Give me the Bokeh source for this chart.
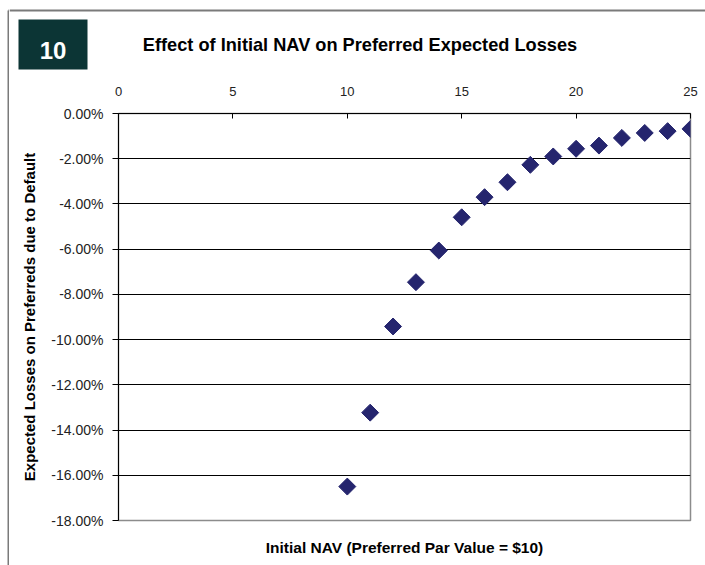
import numpy as np
from bokeh.plotting import figure
from bokeh.layouts import column, row
from bokeh.models import Range1d, FixedTicker, PrintfTickFormatter, LinearAxis
from bokeh.core.properties import value
from bokeh.embed import file_html
from bokeh.resources import INLINE

# Data
nav = [10, 11, 12, 13, 14, 15, 16, 17, 18, 19, 20, 21, 22, 23, 24, 25]
losses_pct = [-16.5, -13.23, -9.42, -7.46, -6.06, -4.59, -3.70, -3.04, -2.27,
              -1.90, -1.56, -1.42, -1.08, -0.86, -0.78, -0.68]
x_ticks = [0, 5, 10, 15, 20, 25]
y_ticks = [0, -2, -4, -6, -8, -10, -12, -14, -16, -18]
title_text = "Effect of Initial NAV on Preferred Expected Losses"
x_label = "Initial NAV (Preferred Par Value = $10)"
y_label = "Expected Losses on Preferreds due to Default"
badge = "10"

FONT = "Liberation Sans"
W, H = 705, 565
HH = 80          # header height
SW = 9           # left strip width
BORDER = "#7a7a7a"


def no_align(f):
    if hasattr(f, "frame_align"):
        f.frame_align = False
    return f


def blank(width, height):
    f = figure(width=width, height=height, output_backend="svg", toolbar_location=None,
               x_range=Range1d(0, width), y_range=Range1d(height, 0),
               x_axis_type=None, y_axis_type=None,
               min_border=0, min_border_left=0, min_border_right=0,
               min_border_top=0, min_border_bottom=0)
    f.outline_line_color = None
    f.grid.grid_line_color = None
    f.background_fill_color = "white"
    f.border_fill_color = "white"
    return no_align(f)


# ---- left strip: full-height frame line ----
strip = blank(SW, H)
strip.segment(x0=[8, 8], y0=[10, 10], x1=[8, SW], y1=[H, 10],
              line_color=BORDER, line_width=2)

# ---- header: top frame line, badge, title (x offset by SW) ----
MW = W - SW
hdr = blank(MW, HH)
hdr.segment(x0=[0], y0=[10], x1=[MW], y1=[10], line_color=BORDER, line_width=2)
hdr.quad(left=[18 - SW], right=[87 - SW], top=[19], bottom=[69],
         fill_color="#0c3535", line_color=None)
hdr.text(x=[52.5 - SW], y=[49.5], text=[badge], text_align="center",
         text_baseline="alphabetic", text_font=value(FONT), text_font_style="bold",
         text_font_size="24px", text_color="white")
hdr.text(x=[359.5 - SW], y=[44], text=[title_text], text_align="center",
         text_baseline="alphabetic", text_font=value(FONT), text_font_style="bold",
         text_font_size="18.2px", text_color="black")

# ---- main chart ----
FL, FT, FR, FB = 118, 113, 690, 520
MH = H - HH
p = figure(width=MW, height=MH, output_backend="svg", toolbar_location=None,
           x_axis_location="above",
           x_range=Range1d(0, 25), y_range=Range1d(-18, 0),
           min_border_left=FL - SW, min_border_top=FT - HH,
           min_border_right=W - FR, min_border_bottom=H - FB)
no_align(p)
p.background_fill_color = "white"
p.border_fill_color = "white"
p.outline_line_color = "#8c8c8c"
p.outline_line_width = 1.5

p.scatter(nav, losses_pct, marker="square", angle=np.pi / 4, size=12,
          fill_color="#25256e", line_color="#25256e")

# x axis (top)
xa = p.xaxis[0]
xa.ticker = FixedTicker(ticks=x_ticks)
xa.major_tick_in = 5
xa.major_tick_out = 0
xa.minor_tick_line_color = None
xa.axis_line_color = "black"
xa.major_tick_line_color = "black"
xa.major_label_standoff = 18
xa.major_label_text_font = FONT
xa.major_label_text_font_size = "13px"
xa.major_label_text_color = "#222222"

# hidden bottom axis carrying the x-axis title
xb = LinearAxis(ticker=FixedTicker(ticks=[]), axis_line_color=None,
                major_tick_line_color=None, minor_tick_line_color=None,
                major_label_text_color=None,
                axis_label=x_label, axis_label_text_font=FONT,
                axis_label_text_font_style="bold", axis_label_text_font_size="15.5px",
                axis_label_text_color="black", axis_label_standoff=18)
p.add_layout(xb, "below")

# y axis
ya = p.yaxis[0]
ya.ticker = FixedTicker(ticks=y_ticks)
ya.formatter = PrintfTickFormatter(format="%.2f%%")
ya.major_tick_in = 0
ya.major_tick_out = 6
ya.minor_tick_line_color = None
ya.axis_line_color = "black"
ya.major_tick_line_color = "black"
ya.major_label_standoff = 9
ya.major_label_text_font = FONT
ya.major_label_text_font_size = "14px"
ya.major_label_text_color = "#222222"
ya.axis_label = y_label
ya.axis_label_text_font = FONT
ya.axis_label_text_font_style = "bold"
ya.axis_label_text_font_size = "15px"
ya.axis_label_text_color = "black"
ya.axis_label_standoff = 10

p.xgrid.grid_line_color = None
p.ygrid.ticker = FixedTicker(ticks=y_ticks[1:-1])
p.ygrid.grid_line_color = "black"
p.ygrid.grid_line_width = 1

layout = row(strip, column(hdr, p, spacing=0), spacing=0)

open("out.html", "w").write(file_html(layout, INLINE))
